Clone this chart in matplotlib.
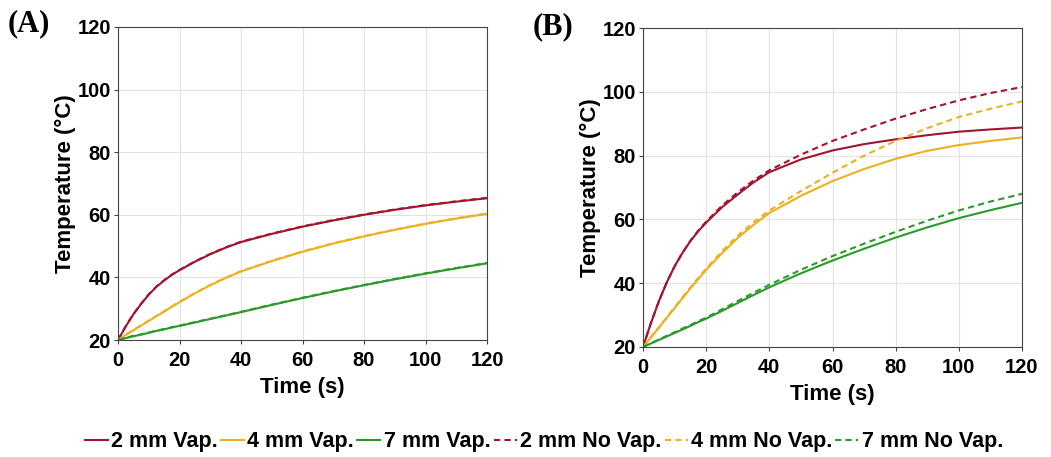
import matplotlib.pyplot as plt

t = [0, 2.5, 5, 7.5, 10, 12.5, 15, 17.5, 20, 25, 30, 35, 40, 50, 60, 70, 80, 90, 100, 110, 120]

# panel A
a_2mm_vap = [20, 24.3, 28.2, 31.5, 34.5, 37, 39, 40.8, 42.3, 45, 47.4, 49.5, 51.3, 53.9, 56.2, 58.2, 60, 61.6, 63, 64.2, 65.3]
a_4mm_vap = [20, 21.6, 23.1, 24.6, 26.1, 27.6, 29.1, 30.6, 32.1, 34.9, 37.5, 39.8, 41.9, 45.2, 48.2, 50.8, 53.1, 55.2, 57.1, 58.8, 60.3]
a_7mm_vap = [20, 20.6, 21.2, 21.7, 22.3, 22.9, 23.4, 24, 24.5, 25.6, 26.7, 27.8, 28.9, 31.2, 33.4, 35.5, 37.5, 39.4, 41.2, 42.9, 44.5]
a_2mm_novap = [20, 24.4, 28.3, 31.6, 34.6, 37.1, 39.1, 40.9, 42.4, 45.1, 47.5, 49.6, 51.4, 54, 56.3, 58.3, 60.1, 61.7, 63.1, 64.3, 65.4]
a_4mm_novap = [20, 21.7, 23.2, 24.7, 26.2, 27.7, 29.2, 30.7, 32.2, 35, 37.6, 39.9, 42, 45.3, 48.3, 50.9, 53.2, 55.3, 57.2, 58.9, 60.4]
a_7mm_novap = [20, 20.7, 21.3, 21.8, 22.4, 23, 23.5, 24.1, 24.6, 25.7, 26.8, 27.9, 29, 31.3, 33.5, 35.6, 37.6, 39.5, 41.3, 43, 44.6]

# panel B
b_2mm_vap = [20, 27.5, 34.3, 40.2, 45.3, 49.5, 53.2, 56.3, 59, 63.8, 67.8, 71.6, 74.8, 78.8, 81.6, 83.6, 85.1, 86.4, 87.5, 88.2, 88.8]
b_4mm_vap = [20, 23, 26, 29.1, 32.2, 35.3, 38.4, 41.3, 44.2, 49.4, 54.2, 58.3, 62, 67.4, 72, 75.8, 79, 81.5, 83.3, 84.6, 85.7]
b_7mm_vap = [20, 21.1, 22.2, 23.3, 24.4, 25.5, 26.6, 27.8, 28.9, 31.3, 33.8, 36.3, 38.7, 43.1, 47.1, 50.8, 54.3, 57.5, 60.4, 62.9, 65.2]
b_2mm_novap = [20, 27.5, 34.3, 40.2, 45.3, 49.6, 53.3, 56.5, 59.3, 64.3, 68.5, 72.2, 75.4, 80.3, 84.6, 88.2, 91.6, 94.6, 97.3, 99.6, 101.5]
b_4mm_novap = [20, 23.1, 26.2, 29.3, 32.5, 35.6, 38.7, 41.7, 44.6, 50, 54.9, 59.1, 62.8, 68.9, 74.6, 80, 84.6, 88.6, 92.1, 94.7, 97]
b_7mm_novap = [20, 21.2, 22.3, 23.5, 24.6, 25.8, 26.9, 28.1, 29.2, 31.8, 34.4, 37, 39.5, 44.2, 48.5, 52.4, 56.1, 59.6, 62.8, 65.6, 68]

labels = ["2 mm Vap.", "4 mm Vap.", "7 mm Vap.", "2 mm No Vap.", "4 mm No Vap.", "7 mm No Vap."]
colors = ["#a2142f", "#edb120", "#2a9a2a"]

plt.rcParams["font.family"] = ["Liberation Sans", "DejaVu Sans"]

fig = plt.figure(figsize=(10.51, 4.57), dpi=100)
W, H = 1051, 457
ax_a = fig.add_axes([118 / W, 1 - 340 / H, (487 - 118) / W, (340 - 27) / H])
ax_b = fig.add_axes([643 / W, 1 - 347 / H, (1022 - 643) / W, (347 - 28) / H])

panels = [
    (ax_a, [a_2mm_vap, a_4mm_vap, a_7mm_vap], [a_2mm_novap, a_4mm_novap, a_7mm_novap], "(A)", -0.298, 1.01),
    (ax_b, [b_2mm_vap, b_4mm_vap, b_7mm_vap], [b_2mm_novap, b_4mm_novap, b_7mm_novap], "(B)", -0.29, 1.003),
]

handles = []
for ax, vap, novap, tag, tx, ty in panels:
    hs = []
    for y, c in zip(vap, colors):
        hs += ax.plot(t, y, color=c, lw=1.5, ls="-")
    for y, c in zip(novap, colors):
        hs += ax.plot(t, y, color=c, lw=1.5, ls=(0, (3, 2)))
    handles = hs
    ax.set_xlim(0, 120)
    ax.set_ylim(20, 120)
    ax.set_xticks(range(0, 121, 20))
    ax.set_yticks(range(20, 121, 20))
    ax.grid(True, color="#e3e3e3", lw=0.8)
    ax.set_axisbelow(True)
    for s in ax.spines.values():
        s.set_color("#444444")
        s.set_linewidth(0.8)
    ax.tick_params(labelsize=14.5, length=3, width=0.8, color="#444444", pad=2)
    ax.tick_params(axis="x", pad=5)
    for lab in ax.get_xticklabels() + ax.get_yticklabels():
        lab.set_fontweight("bold")
    ax.set_xlabel("Time (s)", fontsize=16, fontweight="bold", labelpad=5)
    ax.set_ylabel("Temperature (°C)", fontsize=16, fontweight="bold", labelpad=1)
    ax.text(tx, ty, tag, transform=ax.transAxes, fontsize=22, fontweight="bold",
            family=["Liberation Serif", "DejaVu Serif"], va="center", ha="left")

fig.legend(handles, labels, loc="center", bbox_to_anchor=(544 / W, 1 - 442 / H), ncol=6,
           frameon=False, handlelength=1.07, handletextpad=0.15, columnspacing=0.15,
           prop={"size": 15.5, "weight": "bold"})

fig.savefig("out.png", dpi=100)
